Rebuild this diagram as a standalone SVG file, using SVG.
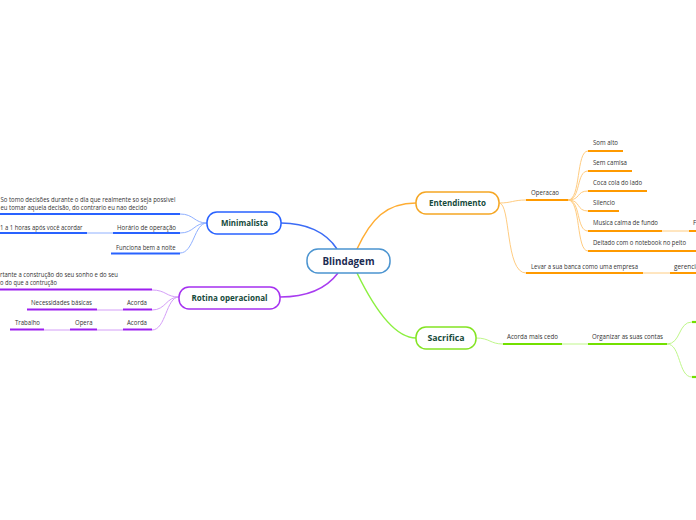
<svg xmlns="http://www.w3.org/2000/svg" width="696" height="520" viewBox="0 0 696 520">
<style>
text{font-family:"Open Sans","Noto Sans","Liberation Sans",sans-serif}
.t{font-size:6.4px;fill:#333}
.n{font-size:8.6px;font-weight:bold;fill:#164a3b;text-anchor:middle}
.c{fill:none;stroke-width:1}
.ub{stroke:#2962ff;stroke-width:2}
.uo{stroke:#ff9a00;stroke-width:2}
.up{stroke:#9d1ff0;stroke-width:2}
.ug{stroke:#73e000;stroke-width:2.2}
.cb{stroke:#8fb0ff}
.co{stroke:#ffcc80}
.cp{stroke:#d49ef8}
.cg{stroke:#bff78a}
</style>
<rect width="696" height="520" fill="#fff"/>
<g id="connectors" fill="none">
  <path d="M337,249 C326,232 306,223 281,223" stroke="#3c6cf5" stroke-width="1.5"/>
  <path d="M357,249 C371,219 386,203 416,203" stroke="#ffad33" stroke-width="1.5"/>
  <path d="M338,273 C326,289 306,297 280,297" stroke="#a83cf0" stroke-width="1.5"/>
  <path d="M357,273 C376,312 396,338 416,338" stroke="#8cf040" stroke-width="1.5"/>
  <!-- Minimalista -->
  <path class="c cb" d="M207,223 C194,223 194,214 180,214"/>
  <path class="c cb" d="M207,223 C194,223 194,233 180,233"/>
  <path class="c cb" d="M207,223 C194,223 194,253 180,253"/>
  <path class="c cb" d="M87,233 L113,233"/>
  <!-- Rotina -->
  <path class="c cp" d="M179,297 C166,297 166,290 152,290"/>
  <path class="c cp" d="M179,297 C166,297 166,310 152,310"/>
  <path class="c cp" d="M179,297 C166,297 166,330 152,330"/>
  <path class="c cp" d="M97,310 L123,310"/>
  <path class="c cp" d="M44,330 L70,330"/>
  <path class="c cp" d="M97,330 L123,330"/>
  <!-- Entendimento -->
  <path class="c co" d="M499,203 C512,203 513,200 526,200"/>
  <path class="c co" d="M499,203 C511,203 505,273 526,273"/>
  <path class="c co" d="M568,200 C581,200 576,151 588,151"/>
  <path class="c co" d="M568,200 C581,200 576,171 588,171"/>
  <path class="c co" d="M568,200 C581,200 576,191 588,191"/>
  <path class="c co" d="M568,200 C581,200 576,211 588,211"/>
  <path class="c co" d="M568,200 C581,200 576,231 588,231"/>
  <path class="c co" d="M568,200 C581,200 576,251 588,251"/>
  <path class="c co" d="M662,231 L689,231"/>
  <path class="c co" d="M643,273 L670,273"/>
  <!-- Sacrifica -->
  <path class="c cg" d="M476,338 C490,338 490,344 503,344"/>
  <path class="c cg" d="M562,344 L588,344"/>
  <path class="c cg" d="M667,344 C681,344 678,322 692,322"/>
  <path class="c cg" d="M667,344 C681,344 678,377 692,377"/>
</g>
<g id="center">
  <rect x="307" y="249" width="83" height="24" rx="11" fill="#fff" stroke="#4b94d0" stroke-width="1.5"/>
  <text x="348.5" y="265" font-size="11" font-weight="bold" fill="#1b2b52" text-anchor="middle" textLength="52" lengthAdjust="spacingAndGlyphs">Blindagem</text>
</g>
<g id="minimalista">
  <rect x="207" y="212" width="74" height="22" rx="10" fill="#fff" stroke="#2962ff" stroke-width="1.5"/>
  <text class="n" x="244.5" y="226" textLength="47" lengthAdjust="spacingAndGlyphs">Minimalista</text>
</g>
<g id="min-decisoes">
  <text class="t" x="0.5" y="202" textLength="175" lengthAdjust="spacingAndGlyphs">So tomo decisões durante o dia que realmente so seja possivel</text>
  <text class="t" x="0.5" y="210" textLength="146.5" lengthAdjust="spacingAndGlyphs">eu tomar aquela decisão, do contrario eu nao decido</text>
  <line class="ub" x1="0" y1="214" x2="180" y2="214"/>
</g>
<g id="min-horario">
  <text class="t" x="117" y="230" textLength="59" lengthAdjust="spacingAndGlyphs">Horário de operação</text>
  <line class="ub" x1="113" y1="233" x2="180" y2="233"/>
</g>
<g id="min-horas">
  <text class="t" x="0" y="230" textLength="82.5" lengthAdjust="spacingAndGlyphs">1 a 1 horas após você acordar</text>
  <line class="ub" x1="0" y1="233" x2="87" y2="233"/>
</g>
<g id="min-noite">
  <text class="t" x="116" y="249.5" textLength="59.5" lengthAdjust="spacingAndGlyphs">Funciona bem a noite</text>
  <line class="ub" x1="111" y1="253.5" x2="180" y2="253.5"/>
</g>
<g id="rotina">
  <rect x="179" y="287" width="101" height="22" rx="10" fill="#fff" stroke="#a530f0" stroke-width="1.5"/>
  <text class="n" x="229.5" y="301" textLength="76" lengthAdjust="spacingAndGlyphs">Rotina operacional</text>
</g>
<g id="rot-construcao">
  <text class="t" x="0" y="276.5" textLength="118" lengthAdjust="spacingAndGlyphs">rtante a construção do seu sonho e do seu</text>
  <text class="t" x="0" y="284.5" textLength="57" lengthAdjust="spacingAndGlyphs">o do que a contrução</text>
  <line class="up" x1="0" y1="289.5" x2="152" y2="289.5"/>
</g>
<g id="rot-acorda1">
  <text class="t" x="127" y="305" textLength="20" lengthAdjust="spacingAndGlyphs">Acorda</text>
  <line class="up" x1="123" y1="309.5" x2="152" y2="309.5"/>
</g>
<g id="rot-necessidades">
  <text class="t" x="31" y="305" textLength="61" lengthAdjust="spacingAndGlyphs">Necessidades básicas</text>
  <line class="up" x1="27" y1="309.5" x2="97" y2="309.5"/>
</g>
<g id="rot-acorda2">
  <text class="t" x="127" y="325" textLength="20" lengthAdjust="spacingAndGlyphs">Acorda</text>
  <line class="up" x1="123" y1="329.5" x2="152" y2="329.5"/>
</g>
<g id="rot-opera">
  <text class="t" x="75" y="325" textLength="17.5" lengthAdjust="spacingAndGlyphs">Opera</text>
  <line class="up" x1="70" y1="329.5" x2="97" y2="329.5"/>
</g>
<g id="rot-trabalho">
  <text class="t" x="15" y="325" textLength="25" lengthAdjust="spacingAndGlyphs">Trabalho</text>
  <line class="up" x1="10" y1="329.5" x2="44" y2="329.5"/>
</g>
<g id="entendimento">
  <rect x="416" y="192" width="83" height="22" rx="10" fill="#fff" stroke="#f5a623" stroke-width="1.5"/>
  <text class="n" x="457.5" y="206" textLength="57" lengthAdjust="spacingAndGlyphs">Entendimento</text>
</g>
<g id="ent-operacao">
  <text class="t" x="531" y="194.5" textLength="28" lengthAdjust="spacingAndGlyphs">Operacao</text>
  <line class="uo" x1="526" y1="200" x2="568" y2="200"/>
</g>
<g id="op-som">
  <text class="t" x="593" y="145" textLength="25" lengthAdjust="spacingAndGlyphs">Som alto</text>
  <line class="uo" x1="588" y1="151" x2="623" y2="151"/>
</g>
<g id="op-camisa">
  <text class="t" x="593" y="165" textLength="34" lengthAdjust="spacingAndGlyphs">Sem camisa</text>
  <line class="uo" x1="588" y1="171" x2="632" y2="171"/>
</g>
<g id="op-coca">
  <text class="t" x="593" y="185" textLength="49" lengthAdjust="spacingAndGlyphs">Coca cola do lado</text>
  <line class="uo" x1="588" y1="191" x2="647" y2="191"/>
</g>
<g id="op-silencio">
  <text class="t" x="593" y="205" textLength="22" lengthAdjust="spacingAndGlyphs">Silencio</text>
  <line class="uo" x1="588" y1="211" x2="619" y2="211"/>
</g>
<g id="op-musica">
  <text class="t" x="593" y="225" textLength="65" lengthAdjust="spacingAndGlyphs">Musica calma de fundo</text>
  <line class="uo" x1="588" y1="231" x2="662" y2="231"/>
</g>
<g id="op-musica-f">
  <text class="t" x="693" y="225">F</text>
  <line class="uo" x1="689" y1="231" x2="696" y2="231"/>
</g>
<g id="op-deitado">
  <text class="t" x="593" y="245" textLength="93" lengthAdjust="spacingAndGlyphs">Deitado com o notebook no peito</text>
  <line class="uo" x1="588" y1="251" x2="696" y2="251"/>
</g>
<g id="ent-levar">
  <text class="t" x="531" y="268.5" textLength="107" lengthAdjust="spacingAndGlyphs">Levar a sua banca como uma empresa</text>
  <line class="uo" x1="526" y1="273" x2="643" y2="273"/>
</g>
<g id="levar-gerenci">
  <text class="t" x="674" y="268.5">gerencia</text>
  <line class="uo" x1="670" y1="273" x2="696" y2="273"/>
</g>
<g id="sacrifica">
  <rect x="416" y="327" width="60" height="22" rx="10" fill="#fff" stroke="#84e423" stroke-width="1.5"/>
  <text class="n" x="446" y="341" textLength="37" lengthAdjust="spacingAndGlyphs">Sacrifica</text>
</g>
<g id="sac-acorda">
  <text class="t" x="507" y="339" textLength="51" lengthAdjust="spacingAndGlyphs">Acorda mais cedo</text>
  <line class="ug" x1="503" y1="344" x2="562" y2="344"/>
</g>
<g id="sac-organizar">
  <text class="t" x="592" y="339" textLength="71" lengthAdjust="spacingAndGlyphs">Organizar as suas contas</text>
  <line class="ug" x1="588" y1="344" x2="667" y2="344"/>
</g>
<g id="org-a">
  <line class="ug" x1="692" y1="322" x2="696" y2="322"/>
</g>
<g id="org-b">
  <line class="ug" x1="692" y1="377" x2="696" y2="377"/>
</g>
</svg>
